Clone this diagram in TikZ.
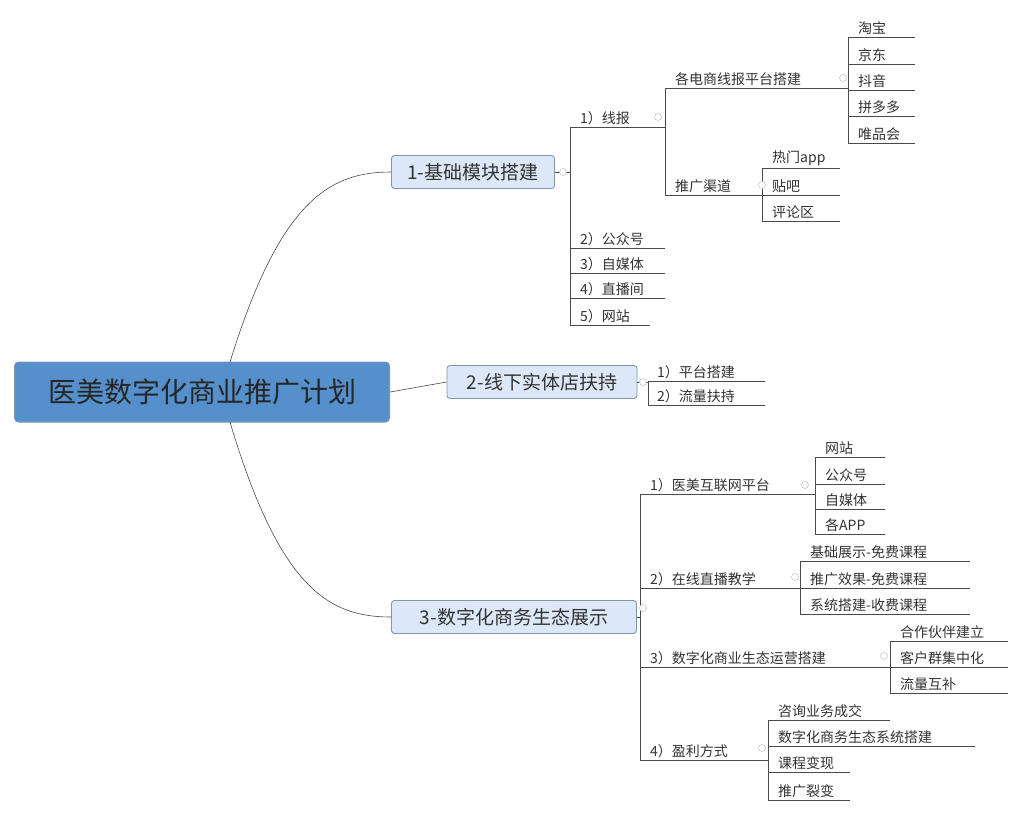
\documentclass[tikz,border=0pt]{standalone}
\usepackage{fontspec}
\setmainfont{Noto Sans CJK SC}
\usetikzlibrary{calc}
\definecolor{rootblue}{HTML}{5590CC}
\definecolor{boxblue}{HTML}{DCE8F8}
\definecolor{edgeblue}{HTML}{7F95B0}
\definecolor{linegrey}{HTML}{4A4A4A}
\tikzset{
  mainbox/.style={draw=edgeblue, fill=boxblue, rounded corners=3pt, line width=0.9pt, font=\fontsize{19}{21}\selectfont, text=black!80, inner sep=0pt, minimum height=33pt},
  leaf/.style={anchor=south west, inner sep=2pt, font=\fontsize{14}{16}\selectfont, text=black!80},
  wire/.style={draw=linegrey, line width=0.6pt},
  knob/.style={circle, draw=black!30, fill=white, inner sep=0pt, minimum size=7pt}
}
\begin{document}
\begin{tikzpicture}[x=1pt,y=-1pt]
  \useasboundingbox (0,0) rectangle (1024,814);
  \fill[white] (0,0) rectangle (1024,814);

  % Root and main branches
  \node[draw=edgeblue, fill=rootblue, rounded corners=4pt, line width=1pt, minimum width=375pt, minimum height=60pt, font=\fontsize{28}{30}\selectfont, text=black!85] (root) at (202,392) {医美数字化商业推广计划};
  \node[mainbox, minimum width=163pt] (b1) at (473,172) {1-基础模块搭建};
  \node[mainbox, minimum width=190pt] (b2) at (542,382) {2-线下实体店扶持};
  \node[mainbox, minimum width=245pt] (b3) at (514,617) {3-数字化商务生态展示};

  \draw[wire] (230,362) .. controls (280,200) and (330,172) .. (b1.west);
  \draw[wire] (root.east) -- (b2.west);
  \draw[wire] (230,422) .. controls (280,590) and (330,617) .. (b3.west);

  % Branch 1
  \draw[wire] (b1.east) -- (570,172);
  \draw[wire] (570,127) -- (570,325);
  \foreach \t/\y/\x in {1）线报/127/655, 2）公众号/248/665, 3）自媒体/273/665, 4）直播间/298/665, 5）网站/325/650}{
    \node[leaf] at (578,\y) {\t};
    \draw[wire] (570,\y) -- (\x,\y);
  }
  \draw[wire] (655,127) -- (665,127);
  \draw[wire] (665,88) -- (665,195);
  \node[leaf] (eshop) at (673,88) {各电商线报平台搭建};
  \draw[wire] (665,88) -- (840,88);
  \node[leaf] (promo) at (673,195) {推广渠道};
  \draw[wire] (665,195) -- (755,195);
  \draw[wire] (840,88) -- (848,88);
  \draw[wire] (848,37) -- (848,143);
  \foreach \t/\y in {淘宝/37, 京东/64, 抖音/90, 拼多多/116, 唯品会/143}{
    \node[leaf] at (856,\y) {\t};
    \draw[wire] (848,\y) -- (915,\y);
  }
  \draw[wire] (755,195) -- (762,195);
  \draw[wire] (762,168) -- (762,221);
  \foreach \t/\y in {热门app/168, 贴吧/195, 评论区/221}{
    \node[leaf] at (770,\y) {\t};
    \draw[wire] (762,\y) -- (840,\y);
  }

  % Branch 2
  \draw[wire] (b2.east) -- (648,382);
  \draw[wire] (648,381) -- (648,405);
  \foreach \t/\y in {1）平台搭建/381, 2）流量扶持/405}{
    \node[leaf] at (655,\y) {\t};
    \draw[wire] (648,\y) -- (765,\y);
  }

  % Branch 3
  \draw[wire] (b3.east) -- (640,617);
  \draw[wire] (640,494) -- (640,760);
  \foreach \t/\y/\x in {1）医美互联网平台/494/808, 2）在线直播教学/588/795, 3）数字化商业生态运营搭建/667/882, 4）盈利方式/760/762}{
    \node[leaf] at (648,\y) {\t};
    \draw[wire] (640,\y) -- (\x,\y);
  }
  \draw[wire] (808,494) -- (815,494);
  \draw[wire] (815,457) -- (815,534);
  \foreach \t/\y in {网站/457, 公众号/484, 自媒体/509, 各APP/534}{
    \node[leaf] at (823,\y) {\t};
    \draw[wire] (815,\y) -- (885,\y);
  }
  \draw[wire] (795,588) -- (800,588);
  \draw[wire] (800,561) -- (800,614);
  \foreach \t/\y in {基础展示-免费课程/561, 推广效果-免费课程/588, 系统搭建-收费课程/614}{
    \node[leaf] at (808,\y) {\t};
    \draw[wire] (800,\y) -- (970,\y);
  }
  \draw[wire] (882,667) -- (890,667);
  \draw[wire] (890,641) -- (890,693);
  \foreach \t/\y in {合作伙伴建立/641, 客户群集中化/667, 流量互补/693}{
    \node[leaf] at (898,\y) {\t};
    \draw[wire] (890,\y) -- (1008,\y);
  }
  \draw[wire] (762,760) -- (768,760);
  \draw[wire] (768,720) -- (768,800);
  \foreach \t/\y/\x in {咨询业务成交/720/890, 数字化商务生态系统搭建/746/975, 课程变现/772/850, 推广裂变/800/850}{
    \node[leaf] at (776,\y) {\t};
    \draw[wire] (768,\y) -- (\x,\y);
  }

  % Collapse knobs
  \foreach \p in {(563,172),(658,117),(843,78),(762,185),(643,382),(643,608),(805,485),(795,577),(884,656),(762,748)}
    \node[knob] at \p {};
\end{tikzpicture}
\end{document}
